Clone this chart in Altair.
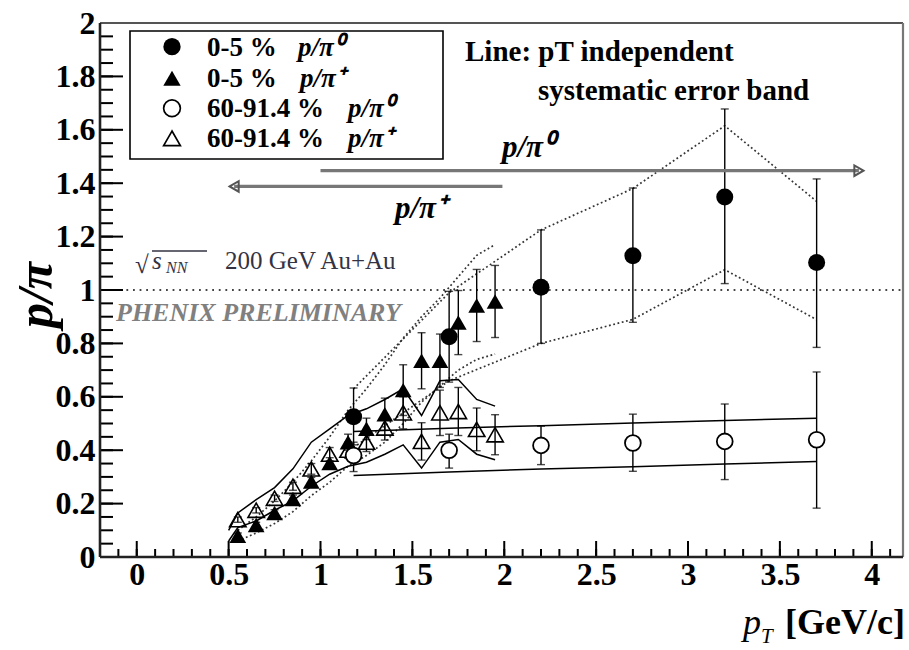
import altair as alt
import pandas as pd

# ---------------- data ----------------
# 0-5 % p/pi0 (filled circles)
fc_x = [1.18, 1.70, 2.20, 2.70, 3.20, 3.70]
fc_y = [0.525, 0.825, 1.010, 1.128, 1.348, 1.103]
fc_lo = [0.420, 0.655, 0.800, 0.879, 1.024, 0.785]
fc_hi = [0.633, 0.995, 1.225, 1.382, 1.678, 1.416]
fc_sys_hi = [0.630, 0.990, 1.225, 1.380, 1.615, 1.332]
fc_sys_lo = [0.410, 0.660, 0.800, 0.890, 1.076, 0.889]

# 0-5 % p/pi+ (filled triangles)
ft_x = [0.55, 0.65, 0.75, 0.85, 0.95, 1.05, 1.15, 1.25, 1.35, 1.45, 1.55, 1.65, 1.75, 1.85, 1.95]
ft_y = [0.080, 0.120, 0.165, 0.217, 0.283, 0.352, 0.430, 0.480, 0.535, 0.625, 0.735, 0.735, 0.878, 0.942, 0.957]
ft_err = [0.010, 0.010, 0.012, 0.015, 0.015, 0.020, 0.030, 0.040, 0.060, 0.095, 0.105, 0.100, 0.120, 0.135, 0.135]
ft_sys_hi = [0.100, 0.150, 0.210, 0.280, 0.360, 0.450, 0.550, 0.630, 0.720, 0.820, 0.900, 0.970, 1.050, 1.130, 1.170]
ft_sys_lo = [0.060, 0.090, 0.125, 0.170, 0.230, 0.280, 0.340, 0.380, 0.430, 0.500, 0.580, 0.640, 0.700, 0.740, 0.760]

# 60-91.4 % p/pi0 (open circles)
oc_x = [1.18, 1.70, 2.20, 2.70, 3.20, 3.70]
oc_y = [0.380, 0.400, 0.418, 0.427, 0.433, 0.439]
oc_lo = [0.320, 0.333, 0.346, 0.321, 0.290, 0.183]
oc_hi = [0.430, 0.460, 0.490, 0.535, 0.573, 0.693]
oc_sys_hi = [0.470, 0.482, 0.492, 0.502, 0.511, 0.520]
oc_sys_lo = [0.305, 0.318, 0.330, 0.338, 0.348, 0.358]

# 60-91.4 % p/pi+ (open triangles)
ot_x = [0.55, 0.65, 0.75, 0.85, 0.95, 1.05, 1.15, 1.25, 1.35, 1.45, 1.55, 1.65, 1.75, 1.85, 1.95]
ot_y = [0.140, 0.175, 0.220, 0.265, 0.330, 0.385, 0.400, 0.430, 0.483, 0.540, 0.433, 0.540, 0.545, 0.478, 0.458]
ot_err = [0.010, 0.010, 0.012, 0.015, 0.020, 0.025, 0.030, 0.035, 0.045, 0.060, 0.070, 0.085, 0.090, 0.080, 0.075]
ot_band_x = [0.50, 0.55, 0.65, 0.75, 0.85, 0.95, 1.05, 1.15, 1.25, 1.35, 1.45, 1.55, 1.65, 1.75, 1.85, 1.95]
ot_sys_hi = [0.100, 0.165, 0.215, 0.260, 0.330, 0.430, 0.480, 0.530, 0.555, 0.590, 0.630, 0.530, 0.660, 0.665, 0.590, 0.565]
ot_sys_lo = [0.060, 0.110, 0.135, 0.175, 0.210, 0.265, 0.310, 0.340, 0.355, 0.385, 0.420, 0.333, 0.430, 0.440, 0.385, 0.364]

# axis ticks / labels
x_major = [0, 0.5, 1, 1.5, 2, 2.5, 3, 3.5, 4]
x_minor = [round(-0.1 + 0.1 * i, 2) for i in range(43)]
y_major = [0, 0.2, 0.4, 0.6, 0.8, 1, 1.2, 1.4, 1.6, 1.8, 2]
y_minor = [round(0.05 * i, 2) for i in range(41)]

# arrows (data units)
arrow_pi0 = [1.0, 3.93, 1.447]
arrow_pip = [1.99, 0.53, 1.388]

# ---------------- layout ----------------
W, H = 803, 534
L, T = 100, 23
FONT = "Liberation Serif"

xscale = alt.Scale(domain=[-0.2, 4.17], nice=False, zero=False)
yscale = alt.Scale(domain=[0, 2], nice=False, zero=False)
xaxis = alt.Axis(values=x_major, format="~g", labelFont=FONT, labelFontWeight="bold",
                 labelFontSize=32, labelColor="black", ticks=False, domain=False, grid=False,
                 title=None, labelPadding=2, labelFlush=False, labelOverlap=False)
yaxis = alt.Axis(values=y_major, format="~g", labelFont=FONT, labelFontWeight="bold",
                 labelFontSize=32, labelColor="black", ticks=False, domain=False, grid=False,
                 title=None, labelPadding=5, labelFlush=False, labelOverlap=False)


def X(f):
    return alt.X(f, type="quantitative", scale=xscale, axis=xaxis)


def Y(f):
    return alt.Y(f, type="quantitative", scale=yscale, axis=yaxis)


one = pd.DataFrame({"a": [0]})


def px(v):
    return alt.value(v - L)


def py(v):
    return alt.value(v - T)


def txt(s, x, y, size, align="left", weight="bold", style="normal", color="black", angle=0,
        baseline="alphabetic"):
    kw = dict(font=FONT, fontSize=size, fontWeight=weight, fontStyle=style, color=color,
              align=align, baseline=baseline)
    if angle:
        kw["angle"] = angle
    return alt.Chart(one).mark_text(**kw).encode(x=px(x), y=py(y), text=alt.value(s))


def band_df(xs, hi, lo, name):
    rows = []
    for a, b in zip(xs, hi):
        rows.append({"x": a, "y": b, "g": name + "_hi"})
    for a, b in zip(xs, lo):
        rows.append({"x": a, "y": b, "g": name + "_lo"})
    return pd.DataFrame(rows)


layers = []

# dotted reference at y=1
ref = pd.DataFrame({"y": [1.0]})
layers.append(alt.Chart(ref).mark_rule(color="#444", strokeWidth=1.8, strokeDash=[1.8, 4.8])
              .encode(y=Y("y"), x=alt.value(0), x2=alt.value(W)))

# dotted systematic bands (central)
dotted = pd.concat([band_df(fc_x, fc_sys_hi, fc_sys_lo, "fc"),
                    band_df(ft_x, ft_sys_hi, ft_sys_lo, "ft")])
layers.append(alt.Chart(dotted).mark_line(color="#333", strokeWidth=1.7, strokeDash=[1.8, 2.6])
              .encode(x=X("x"), y=Y("y"), detail="g:N"))

# solid systematic bands (peripheral)
solid = pd.concat([band_df(oc_x, oc_sys_hi, oc_sys_lo, "oc"),
                   band_df(ot_band_x, ot_sys_hi, ot_sys_lo, "ot")])
layers.append(alt.Chart(solid).mark_line(color="black", strokeWidth=1.5)
              .encode(x=X("x"), y=Y("y"), detail="g:N"))

# error bars
err_rows = []
for xs, lo, hi in [(fc_x, fc_lo, fc_hi), (oc_x, oc_lo, oc_hi)]:
    for a, l, h in zip(xs, lo, hi):
        err_rows.append({"x": a, "lo": l, "hi": h})
for xs, ys, es in [(ft_x, ft_y, ft_err), (ot_x, ot_y, ot_err)]:
    for a, v, e in zip(xs, ys, es):
        err_rows.append({"x": a, "lo": v - e, "hi": v + e})
err = pd.DataFrame(err_rows)
layers.append(alt.Chart(err).mark_rule(color="black", strokeWidth=1.4)
              .encode(x=X("x"), y=Y("lo"), y2="hi"))
layers.append(alt.Chart(err).mark_tick(orient="horizontal", size=8, thickness=1.4, color="black")
              .encode(x=X("x"), y=Y("lo")))
layers.append(alt.Chart(err).mark_tick(orient="horizontal", size=8, thickness=1.4, color="black")
              .encode(x=X("x"), y=Y("hi")))

# markers
fc = pd.DataFrame({"x": fc_x, "y": fc_y})
ft = pd.DataFrame({"x": ft_x, "y": ft_y})
oc = pd.DataFrame({"x": oc_x, "y": oc_y})
ot = pd.DataFrame({"x": ot_x, "y": ot_y})
layers.append(alt.Chart(ot).mark_point(shape="triangle-up", filled=False, size=270, color="black",
                                       strokeWidth=1.6, opacity=1)
              .encode(x=X("x"), y=Y("y")))
layers.append(alt.Chart(ft).mark_point(shape="triangle-up", filled=True, size=280, color="black",
                                       opacity=1)
              .encode(x=X("x"), y=Y("y")))
layers.append(alt.Chart(oc).mark_point(shape="circle", filled=False, size=250, stroke="black",
                                       fill="white", fillOpacity=1, strokeWidth=1.8, opacity=1)
              .encode(x=X("x"), y=Y("y")))
layers.append(alt.Chart(fc).mark_point(shape="circle", filled=True, size=290, color="black",
                                       opacity=1)
              .encode(x=X("x"), y=Y("y")))

# arrows
arr = pd.DataFrame({"x": [arrow_pi0[0], arrow_pip[0]], "x2": [arrow_pi0[1], arrow_pip[1]],
                    "y": [arrow_pi0[2], arrow_pip[2]]})
layers.append(alt.Chart(arr).mark_rule(color="#777", strokeWidth=3.2)
              .encode(x=X("x"), x2="x2", y=Y("y")))
head_r = pd.DataFrame({"x": [arrow_pi0[1]], "y": [arrow_pi0[2]]})
head_l = pd.DataFrame({"x": [arrow_pip[1]], "y": [arrow_pip[2]]})
layers.append(alt.Chart(head_r).mark_point(shape="triangle-right", filled=False, size=110,
                                           color="#555", strokeWidth=2, opacity=1)
              .encode(x=X("x"), y=Y("y")))
layers.append(alt.Chart(head_l).mark_point(shape="triangle-left", filled=False, size=110,
                                           color="#555", strokeWidth=2, opacity=1)
              .encode(x=X("x"), y=Y("y")))

# ticks (inside, ROOT style)
xmaj = pd.DataFrame({"x": x_major})
xmin = pd.DataFrame({"x": x_minor})
ymaj = pd.DataFrame({"y": y_major})
ymin = pd.DataFrame({"y": y_minor})
layers.append(alt.Chart(xmin).mark_rule(color="black", strokeWidth=2)
              .encode(x=X("x"), y=alt.value(H), y2=alt.value(H - 8)))
layers.append(alt.Chart(xmaj).mark_rule(color="black", strokeWidth=2)
              .encode(x=X("x"), y=alt.value(H), y2=alt.value(H - 16)))
layers.append(alt.Chart(ymin).mark_rule(color="black", strokeWidth=2)
              .encode(y=Y("y"), x=alt.value(0), x2=alt.value(13)))
layers.append(alt.Chart(ymaj).mark_rule(color="black", strokeWidth=2)
              .encode(y=Y("y"), x=alt.value(0), x2=alt.value(23)))

# frame
layers.append(alt.Chart(one).mark_rule(color="#555", strokeWidth=2.2)
              .encode(x=alt.value(0), x2=alt.value(W), y=alt.value(0)))
layers.append(alt.Chart(one).mark_rule(color="#777", strokeWidth=2.2)
              .encode(x=alt.value(W), y=alt.value(0), y2=alt.value(H)))
layers.append(alt.Chart(one).mark_rule(color="#222", strokeWidth=2.6)
              .encode(x=alt.value(0), y=alt.value(0), y2=alt.value(H)))
layers.append(alt.Chart(one).mark_rule(color="#222", strokeWidth=2.6)
              .encode(x=alt.value(0), x2=alt.value(W), y=alt.value(H)))

# legend box
layers.append(alt.Chart(one).mark_rect(fill="white", fillOpacity=0, stroke="black", strokeWidth=1.6)
              .encode(x=px(130), x2=px(443), y=py(31), y2=py(159)))
leg_rows = [(46.7, "circle", True, "0-5 %", "p/π⁰", 298),
            (78.3, "triangle-up", True, "0-5 %", "p/π⁺", 300),
            (108.3, "circle", False, "60-91.4 %", "p/π⁰", 348),
            (138.3, "triangle-up", False, "60-91.4 %", "p/π⁺", 348)]
for yy, shp, fil, lab, rat, rx in leg_rows:
    if fil:
        mk = alt.Chart(one).mark_point(shape=shp, filled=True, size=300, color="black", opacity=1)
    else:
        mk = alt.Chart(one).mark_point(shape=shp, filled=False, size=280, color="black",
                                       strokeWidth=1.7, opacity=1)
    layers.append(mk.encode(x=px(172), y=py(yy)))
    layers.append(txt(lab, 207, yy + 9, 27))
    layers.append(txt(rat, rx, yy + 9, 27, style="italic"))

# annotations
layers.append(txt("Line: pT independent", 465, 61, 29))
layers.append(txt("systematic error band", 538, 100, 29))
layers.append(txt("p/π⁰", 502, 157, 31, style="italic"))
layers.append(txt("p/π⁺", 395, 218, 31, style="italic"))
layers.append(txt("PHENIX PRELIMINARY", 116, 321, 26, style="italic", color="#808080"))
layers.append(txt("√", 135, 273, 25, weight="normal", color="#334"))
layers.append(txt("s", 152, 269, 25, weight="normal", style="italic", color="#334"))
layers.append(txt("NN", 166, 273, 16, weight="normal", style="italic", color="#334"))
layers.append(alt.Chart(one).mark_rule(color="#334", strokeWidth=1.5)
              .encode(x=px(152), x2=px(207), y=py(251)))
layers.append(txt("200 GeV Au+Au", 225, 269, 25, weight="normal", color="#334"))

# axis titles
layers.append(txt("p/π", 37, 295, 50, align="center", style="italic", angle=270, baseline="middle"))
layers.append(txt("p", 743, 634, 36, weight="normal", style="italic"))
layers.append(txt("T", 761, 643, 21, weight="normal", style="italic"))
layers.append(txt("[GeV/c]", 905, 634, 36, align="right"))

chart = alt.layer(*layers).properties(
    width=W, height=H,
    padding={"left": L, "top": T, "right": 909 - L - W, "bottom": 650 - T - H},
    autosize=alt.AutoSizeParams(type="none"),
    background="white",
).configure_view(strokeWidth=0)

chart.save("out.html", embed_options={"renderer": "svg", "actions": False})
